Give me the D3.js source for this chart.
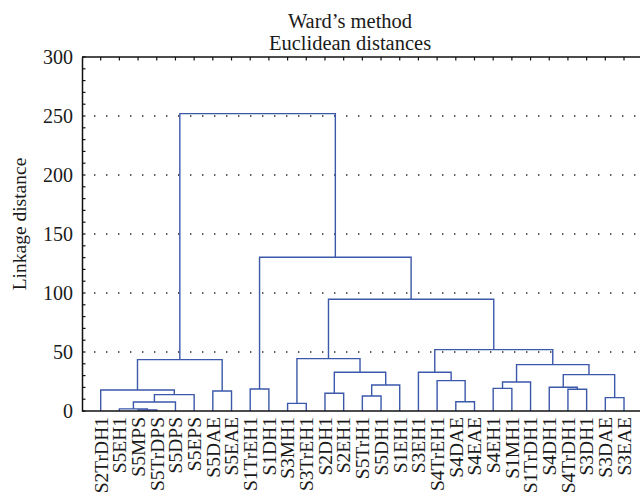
<!DOCTYPE html>
<html><head><meta charset="utf-8">
<script src="https://cdn.jsdelivr.net/npm/d3@7"></script>
<style>body{margin:0;background:#fff}svg{display:block}text{font-family:"Liberation Serif","Times New Roman",serif;fill:#1a1a1a}</style>
</head><body>
<svg id="c" width="640" height="497"></svg>
<script>
const leaves = ["S2TrDH1","S5EH1","S5MPS","S5TrDPS","S5DPS","S5EPS","S5DAE","S5EAE",
  "S1TrEH1","S1DH1","S3MH1","S3TrEH1","S2DH1","S2EH1","S5TrH1","S5DH1","S1EH1",
  "S3EH1","S4TrEH1","S4DAE","S4EAE","S4EH1","S1MH1","S1TrDH1","S4DH1","S4TrDH1",
  "S3DH1","S3DAE","S3EAE"];
// merges: [left node, right node, linkage distance]; node ids >= leaves.length refer to earlier merges
const mergeLeft  = [2, 1, 30, 31, 0, 6, 33, 8, 10, 12, 14, 39, 38, 37, 19, 18, 17, 21, 46, 25, 24, 27, 49, 47, 45, 42, 36, 35];
const mergeRight = [3, 29, 4, 5, 32, 7, 34, 9, 11, 13, 15, 16, 40, 41, 20, 43, 44, 22, 23, 26, 48, 28, 50, 51, 52, 53, 54, 55];
const mergeDist  = [0.9, 1.8, 7.6, 13.9, 17.8, 17.0, 43.5, 18.6, 6.5, 15.0, 12.7, 22.0, 32.8, 44.4, 7.9, 25.7, 32.8, 19.2, 24.6, 18.4, 20.1, 11.3, 30.8, 39.3, 52.0, 94.7, 130.3, 252.0];
const yTicks = [0, 50, 100, 150, 200, 250, 300];
const gridValues = [50, 100, 150, 200, 250];
const titleLines = ["Ward\u2019s method", "Euclidean distances"];
const yTitle = "Linkage distance";

const svg = d3.select("#c");
const x = d3.scalePoint().domain(leaves).range([82, 642.7]).padding(1);
const y = d3.scaleLinear().domain([0, 300]).range([411, 57]);
const blue = "#3b58aa";

// grid
svg.append("g").selectAll("line").data(gridValues).join("line")
  .attr("x1", 94).attr("x2", 640).attr("y1", d => y(d)).attr("y2", d => y(d))
  .attr("stroke", "#222").attr("stroke-width", 1.3).attr("stroke-dasharray", "1.4,10.6");

// node positions
const nodes = leaves.map(l => ({x: x(l), h: 0}));
const segs = [];
mergeDist.forEach((h, i) => {
  const a = nodes[mergeLeft[i]], b = nodes[mergeRight[i]];
  segs.push({a, b, h});
  nodes.push({x: (a.x + b.x) / 2, h});
});

// top border with ticks
svg.append("line").attr("x1", 82).attr("x2", 640).attr("y1", y(300)).attr("y2", y(300))
  .attr("stroke", "#111").attr("stroke-width", 1.5);
svg.append("g").selectAll("line").data(leaves).join("line")
  .attr("x1", d => x(d)).attr("x2", d => x(d)).attr("y1", y(300)).attr("y2", y(300) + 3.5)
  .attr("stroke", "#111").attr("stroke-width", 1.2);

// left axis
const yAxis = d3.axisLeft(y).tickValues(yTicks).tickSize(0).tickPadding(9);
const ga = svg.append("g").attr("transform", "translate(82,0)").call(yAxis);
ga.select(".domain").attr("stroke", "#111").attr("stroke-width", 1.5);
ga.selectAll("text").style("font-size", "20px").style("font-family", "Liberation Serif, serif").attr("fill", "#1a1a1a");
svg.append("g").selectAll("line").data(d3.range(0, 301, 10)).join("line")
  .attr("x1", 82).attr("x2", 85.5).attr("y1", d => y(d)).attr("y2", d => y(d))
  .attr("stroke", "#111").attr("stroke-width", 1.2);

// tree
svg.append("g").selectAll("path").data(segs).join("path")
  .attr("d", s => `M${s.a.x},${y(s.a.h)}V${y(s.h)}H${s.b.x}V${y(s.b.h)}`)
  .attr("fill", "none").attr("stroke", blue).attr("stroke-width", 1.4);

// baseline
svg.append("line").attr("x1", 82).attr("x2", 640).attr("y1", y(0)).attr("y2", y(0))
  .attr("stroke", "#111").attr("stroke-width", 1.5);

// leaf labels
svg.append("g").selectAll("text").data(leaves).join("text")
  .attr("transform", d => `translate(${x(d)},417) rotate(-90)`)
  .attr("text-anchor", "end").attr("dy", "0.35em")
  .style("font-size", "19.5px").text(d => d);

// titles
svg.append("g").selectAll("text").data(titleLines).join("text")
  .attr("x", 350).attr("y", (d, i) => 28 + i * 22).attr("text-anchor", "middle")
  .style("font-size", "20.5px").text(d => d);
svg.append("text").attr("transform", "translate(26,224) rotate(-90)")
  .attr("text-anchor", "middle").style("font-size", "19.5px").text(yTitle);
</script>
</body></html>
